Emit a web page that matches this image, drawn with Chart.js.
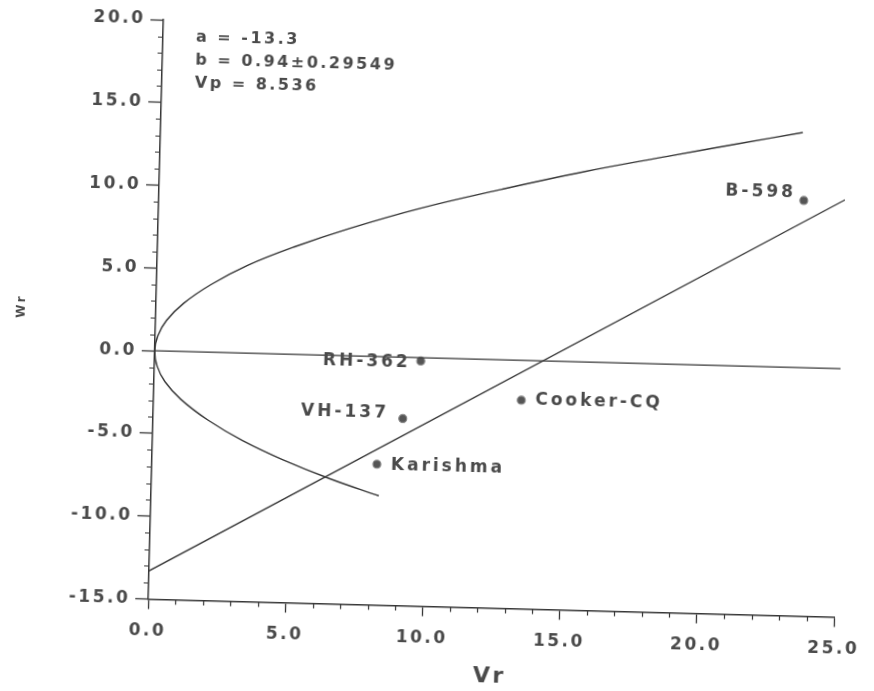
<!DOCTYPE html>
<html>
<head>
<meta charset="utf-8">
<title>Vr-Wr graph</title>
<script src="https://cdn.jsdelivr.net/npm/chart.js@4.4.1/dist/chart.umd.min.js"></script>
<style>
  html, body { margin: 0; padding: 0; background: #ffffff; overflow: hidden; }
  #wrap { width: 874px; height: 691px; transform: rotate(1.5deg); transform-origin: 437px 345.5px; }
  canvas { display: block; }
</style>
</head>
<body>
<div id="wrap"><canvas id="vrwr" width="874" height="691"></canvas></div>
<script>
// Axis ranges and tick labels
const xTickValues = [0, 5, 10, 15, 20, 25];
const yTickValues = [-15, -10, -5, 0, 5, 10, 15, 20];

// Genotypes: array variance (Vr) and parent-offspring covariance (Wr)
const genotypes = ['RH-362', 'Cooker-CQ', 'VH-137', 'Karishma', 'B-598'];
const genotypeVr = [9.7, 13.4, 9.1, 8.2, 23.5];
const genotypeWr = [-0.2, -2.4, -3.7, -6.5, 10.1];

// Limiting parabola, traced from its lower tip through the origin to its upper tip
const parabolaVr = [8.3, 6.5, 4.8, 3.3, 2.0, 1.0, 0.4, 0.1, 0, 0.1, 0.4, 1.0, 2.0, 3.3, 5.0, 7.0, 9.5, 12.5, 15.5, 18.5, 21.0, 23.4];
const parabolaWr = [-8.4, -7.45, -6.4, -5.3, -4.1, -2.9, -1.85, -0.92, 0, 0.92, 1.85, 2.9, 4.1, 5.3, 6.5, 7.7, 9.0, 10.3, 11.5, 12.55, 13.4, 14.2];

// Wr = 0 reference line
const zeroLineVr = [0, 25];
const zeroLineWr = [0, 0];

// Regression of Wr on Vr and parental variance
const regA = -13.3;
const regB = 0.94;
const regBErr = 0.29549;
const vp = 8.536;
const regLineVr = [0, 25];
const regLineWr = regLineVr.map(v => regA + regB * v);

const statLines = [
  'a = ' + regA,
  'b = ' + regB + '\u00b1' + regBErr,
  'Vp = ' + vp
];

const INK = '#363636';
const TEXT = '#4a4a4a';
const FONT = "'DejaVu Sans', 'Liberation Sans', sans-serif";

const toXY = (xs, ys) => xs.map((x, i) => ({ x: x, y: ys[i] }));

// Which side of its point each genotype name sits on, and small nudges
const labelStyle = {
  'RH-362':    { side: 'left',  dx: -10, dy: 2 },
  'Cooker-CQ': { side: 'right', dx: 14,  dy: 0 },
  'VH-137':    { side: 'left',  dx: -14, dy: -5 },
  'Karishma':  { side: 'right', dx: 14,  dy: 1 },
  'B-598':     { side: 'left',  dx: -8,  dy: -7 }
};

const textSpacing = {
  id: 'textSpacing',
  beforeDraw(chart) { chart.ctx.letterSpacing = '2.5px'; }
};

// Short minor ticks every 1 unit on both axes
const minorTicks = {
  id: 'minorTicks',
  afterDraw(chart) {
    const { ctx, chartArea } = chart;
    const xs = chart.scales.x, ys = chart.scales.y;
    ctx.save();
    ctx.strokeStyle = INK;
    ctx.lineWidth = 1.2;
    ctx.beginPath();
    for (let v = xs.min; v <= xs.max; v += 1) {
      if (v % 5 === 0) continue;
      const px = Math.round(xs.getPixelForValue(v)) + 0.5;
      ctx.moveTo(px, chartArea.bottom);
      ctx.lineTo(px, chartArea.bottom + 5);
    }
    for (let v = ys.min; v <= ys.max; v += 1) {
      if (v % 5 === 0) continue;
      const py = Math.round(ys.getPixelForValue(v)) + 0.5;
      ctx.moveTo(chartArea.left, py);
      ctx.lineTo(chartArea.left - 5, py);
    }
    ctx.stroke();
    ctx.restore();
  }
};

// Genotype names beside their points, and the regression statistics
const annotations = {
  id: 'annotations',
  afterDatasetsDraw(chart) {
    const { ctx, chartArea } = chart;
    ctx.save();
    ctx.fillStyle = TEXT;
    ctx.textBaseline = 'middle';
    ctx.letterSpacing = '3px';
    ctx.font = "bold 17px " + FONT;
    const meta = chart.getDatasetMeta(3);
    meta.data.forEach((pt, i) => {
      const name = genotypes[i];
      const st = labelStyle[name];
      ctx.textAlign = st.side === 'left' ? 'right' : 'left';
      ctx.fillText(name, pt.x + st.dx, pt.y + st.dy);
    });
    ctx.textAlign = 'left';
    ctx.letterSpacing = '2.5px';
    ctx.font = "bold 16px " + FONT;
    statLines.forEach((t, i) => {
      ctx.fillText(t, chartArea.left + 33, chartArea.top + 17 + i * 23);
    });
    ctx.restore();
  }
};

new Chart(document.getElementById('vrwr'), {
  type: 'scatter',
  data: {
    datasets: [
      {
        label: 'Limiting parabola',
        data: toXY(parabolaVr, parabolaWr),
        showLine: true, tension: 0.4,
        borderColor: INK, borderWidth: 1.4,
        pointRadius: 0, fill: false
      },
      {
        label: 'Wr = 0',
        data: toXY(zeroLineVr, zeroLineWr),
        showLine: true,
        borderColor: INK, borderWidth: 1.4,
        pointRadius: 0, fill: false
      },
      {
        label: 'Regression',
        data: toXY(regLineVr, regLineWr),
        showLine: true,
        borderColor: INK, borderWidth: 1.4,
        pointRadius: 0, fill: false
      },
      {
        label: 'Genotypes',
        data: toXY(genotypeVr, genotypeWr),
        pointRadius: 4,
        pointBackgroundColor: '#555555',
        pointBorderColor: '#8a8a8a',
        pointBorderWidth: 1.2
      }
    ]
  },
  options: {
    responsive: false,
    animation: false,
    devicePixelRatio: 1,
    layout: { padding: { top: 27, right: 27, bottom: 0, left: 0 } },
    plugins: { legend: { display: false }, tooltip: { enabled: false } },
    scales: {
      x: {
        type: 'linear', min: 0, max: 25,
        afterBuildTicks(scale) { scale.ticks = xTickValues.map(v => ({ value: v })); },
        afterFit(scale) { scale.height = 84.5; },
        ticks: {
          callback: v => Number(v).toFixed(1),
          color: TEXT, padding: 12, maxRotation: 0, autoSkip: false,
          font: { family: FONT, size: 17, weight: 'bold' }
        },
        grid: { drawOnChartArea: false, drawTicks: true, tickLength: 10, tickColor: INK, tickWidth: 1.3 },
        border: { display: true, color: INK, width: 1.5 },
        title: {
          display: true, text: 'Vr', color: TEXT,
          font: { family: FONT, size: 22, weight: 'bold' },
          padding: { top: 0, bottom: 3 }
        }
      },
      y: {
        type: 'linear', min: -15, max: 20,
        afterBuildTicks(scale) { scale.ticks = yTickValues.map(v => ({ value: v })); },
        afterFit(scale) { scale.width = 155; },
        ticks: {
          callback: v => Number(v).toFixed(1),
          color: TEXT, padding: 5, autoSkip: false,
          font: { family: FONT, size: 17, weight: 'bold' }
        },
        grid: { drawOnChartArea: false, drawTicks: true, tickLength: 13, tickColor: INK, tickWidth: 1.3 },
        border: { display: true, color: INK, width: 1.5 },
        title: {
          display: true, text: 'Wr', color: TEXT,
          font: { family: FONT, size: 12, weight: 'bold' },
          padding: { top: 14, bottom: 0 }
        }
      }
    }
  },
  plugins: [textSpacing, minorTicks, annotations]
});
</script>
</body>
</html>
